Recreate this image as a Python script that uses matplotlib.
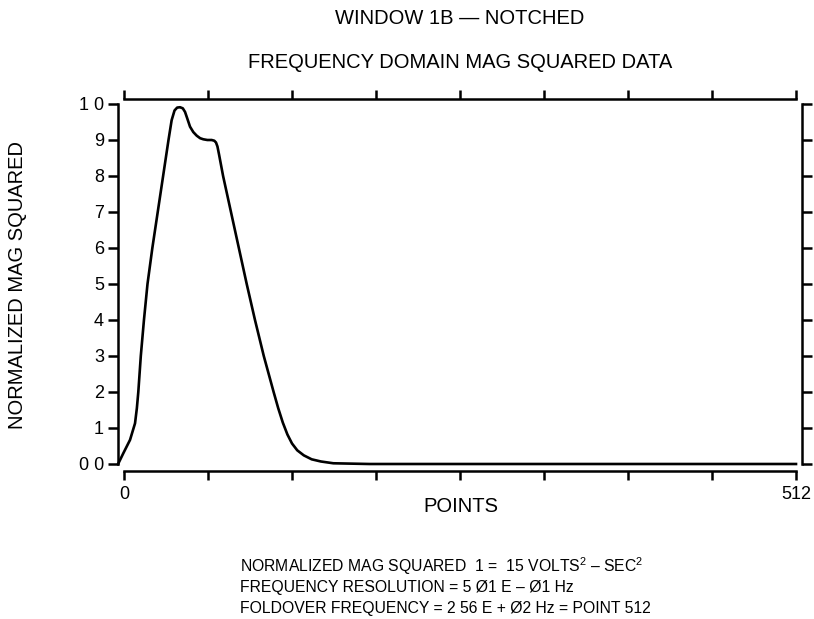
import matplotlib
matplotlib.use("Agg")
import matplotlib.pyplot as plt

plt.rcParams['font.family'] = ['Liberation Sans', 'DejaVu Sans']
plt.rcParams['mathtext.fontset'] = 'custom'
plt.rcParams['mathtext.rm'] = 'Liberation Sans'

# curve (point number, normalized mag squared)
points = [-4.5, -0.5, 4.6, 8.4, 9.8, 10.9, 12.8, 15.2, 17.9, 21.6, 25.7, 29.8,
          33.9, 36.3, 38.5, 40.5, 42.7, 44.8, 46.5, 48.0, 50.3, 52.8, 55.4,
          58.0, 60.4, 63.5, 66.8, 68.8, 70.1, 71.2, 72.4, 75.5, 81.5, 87.5,
          93.5, 99.8, 106.5, 114.0, 117.5, 121.0, 124.5, 128.0, 132.0, 137.0,
          143.0, 150.0, 159.5, 187.0, 300.0, 512.0]
mag_sq = [0.0, 0.30, 0.67, 1.13, 1.55, 2.0, 3.0, 4.0, 5.0, 6.0, 7.0, 8.0,
          9.0, 9.55, 9.82, 9.90, 9.91, 9.88, 9.78, 9.62, 9.37, 9.22, 9.12,
          9.05, 9.02, 9.00, 9.00, 8.98, 8.93, 8.82, 8.60, 8.0, 7.0, 6.0,
          5.0, 4.0, 3.0, 2.0, 1.55, 1.15, 0.82, 0.57, 0.38, 0.24,
          0.13, 0.07, 0.02, 0.0, 0.0, 0.0]

x_ticks = [0, 64, 128, 192, 256, 320, 384, 448, 512]
x_labels = ['0', '', '', '', '', '', '', '', '512']
y_ticks = [0, 1, 2, 3, 4, 5, 6, 7, 8, 9, 10]
y_labels = ['0 0', '1', '2', '3', '4', '5', '6', '7', '8', '9', '1 0']

W, H = 814, 619
fig = plt.figure(figsize=(W / 100, H / 100), dpi=100)
ax = fig.add_axes([118 / W, (H - 464) / H, (802 - 118) / W, 360 / H])

ax.plot(points, mag_sq, color='black', lw=1.9, solid_joinstyle='round',
        clip_on=False)
ax.set_xlim((118 - 124) / 1.3125, (802 - 124) / 1.3125)
ax.set_ylim(0, 10)

lw = 1.8
for s in ax.spines.values():
    s.set_linewidth(lw)
ax.spines['top'].set_position(('outward', 3.6))
ax.spines['bottom'].set_position(('outward', 5))
ax.spines['top'].set_bounds(0, 512)
ax.spines['bottom'].set_bounds(0, 512)

ax.set_xticks(x_ticks)
ax.set_xticklabels(x_labels)
ax.set_yticks(y_ticks)
ax.set_yticklabels(y_labels)
ax.tick_params(axis='x', which='both', top=True, bottom=True, direction='out',
               length=6.5, width=lw, labelsize=13, pad=4)
ax.tick_params(axis='y', which='both', left=True, right=True, direction='out',
               length=7, width=lw, labelsize=13, pad=3)

fs = 14.5
fig.text(460 / W, 1 - 18 / H, 'WINDOW 1B — NOTCHED', ha='center', va='center',
         fontsize=fs)
fig.text(460 / W, 1 - 62 / H, 'FREQUENCY DOMAIN MAG SQUARED DATA', ha='center',
         va='center', fontsize=fs)
fig.text(18 / W, 1 - 285 / H, 'NORMALIZED MAG SQUARED', rotation=90,
         ha='center', va='center', fontsize=fs)
fig.text(461 / W, 1 - 507 / H, 'POINTS', ha='center', va='center',
         fontsize=fs)

notes = ['NORMALIZED MAG SQUARED  1 =  15 VOLTS$^{2}$ – SEC$^{2}$',
         'FREQUENCY RESOLUTION = 5 Ø1 E – Ø1 Hz',
         'FOLDOVER FREQUENCY = 2 56 E + Ø2 Hz = POINT 512']
for i, line in enumerate(notes):
    fig.text(240 / W, 1 - (566 + 21.5 * i) / H, line, ha='left', va='center',
             fontsize=11.3)

fig.savefig('out.png', dpi=100)
